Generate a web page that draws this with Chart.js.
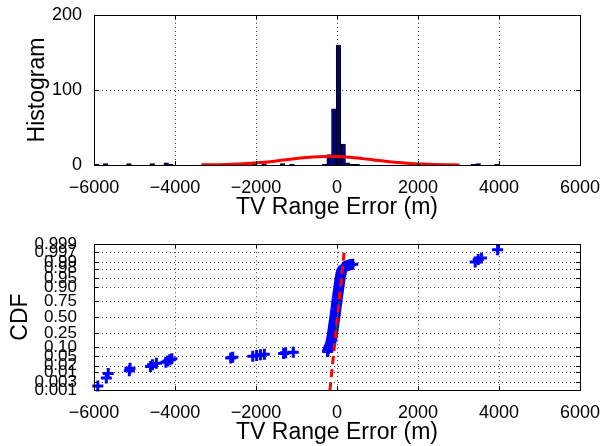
<!DOCTYPE html>
<html>
<head>
<meta charset="utf-8">
<script src="https://cdn.jsdelivr.net/npm/chart.js@4.4.1/dist/chart.umd.min.js"></script>
<style>
  html, body { margin: 0; padding: 0; background: #fff; }
  canvas { position: absolute; left: 0; }
  #histChart { top: 0; }
  #cdfChart { top: 225px; }
</style>
</head>
<body>
<canvas id="histChart" width="604" height="225"></canvas>
<canvas id="cdfChart" width="604" height="221"></canvas>
<script>
// histogram bins (centre of bin, count)
const histCenters = [-5942.5, -5712.5, -5137.5, -4562.5, -4217.5, -4102.5, -2607.5, -2032.5, -1802.5, -1342.5, -1112.5,
  -307.5, -192.5, -77.5, 37.5, 152.5, 267.5, 382.5, 497.5, 3372.5, 3487.5, 3947.5];
const histCounts = [1, 2, 2, 2, 3, 1, 1, 2, 2, 2, 1,
  1, 14, 75, 160, 28, 3, 1, 1, 1, 2, 1];

// red fitted curve
const fitX = [-3350, -3000, -2700, -2400, -2100, -1800, -1500, -1200, -900, -600, -300,
  0, 300, 600, 900, 1200, 1500, 1800, 2100, 2400, 2700, 3030];
const fitY = [0.2, 0.4, 0.7, 1.4, 2.3, 3.7, 5.4, 7.4, 9.3, 10.7, 11.4,
  11.3, 10.4, 8.8, 6.8, 4.9, 3.3, 2.0, 1.2, 0.6, 0.3, 0.1];

const xTicks = [-6000, -4000, -2000, 0, 2000, 4000, 6000];

// probability axis: labels and their normal quantiles
const probLabels = ['0.001', '0.003', '0.01', '0.02', '0.05', '0.10', '0.25', '0.50',
  '0.75', '0.90', '0.95', '0.98', '0.99', '0.997', '0.999'];
const probZ = [-3.09, -2.748, -2.326, -2.054, -1.645, -1.282, -0.674, 0,
  0.674, 1.282, 1.645, 2.054, 2.326, 2.748, 3.09];

// sorted errors and their plotting positions (quantile)
const cdfX = [-5906, -5697, -5650, -5128, -5110, -4604, -4556, -4460, -4225, -4176, -4127, -4078,
  -2624, -2575, -2080, -1984, -1890, -1794, -1318, -1269, -1079,
  -232, -225, -210, -198, -185, -165, -148, -135, -125, -119, -110, -102, -94, -86, -78,
  -70, -61, -53, -45, -38, -30, -21, -13, -5, 3, 12, 20, 28, 36, 45, 53, 61, 69, 78, 90,
  100, 111, 130, 150, 175, 205, 240, 275, 310, 345, 390,
  3413, 3487, 3566, 3967];
const cdfZ = [-2.92, -2.58, -2.39, -2.27, -2.17, -2.09, -2.02, -1.96, -1.91, -1.86, -1.81, -1.77,
  -1.73, -1.70, -1.66, -1.63, -1.60, -1.57, -1.54, -1.51, -1.49,
  -1.46, -1.40, -1.34, -1.28, -1.22, -1.14, -1.05, -0.96, -0.88, -0.81, -0.70, -0.60, -0.50, -0.40, -0.30,
  -0.20, -0.10, 0.00, 0.10, 0.20, 0.30, 0.42, 0.52, 0.62, 0.72, 0.84, 0.94, 1.04, 1.14, 1.25, 1.35, 1.45, 1.55, 1.66, 1.76,
  1.85, 1.94, 2.02, 2.08, 2.12, 2.15, 2.18, 2.20, 2.21, 2.23, 2.24,
  2.34, 2.44, 2.50, 2.86];

// reference line (dashed) and quartile segment
const refX = [-175, 185];
const refZ = [-3.09, 2.9];
const quartX = [-30, 50];
const quartZ = [-0.674, 0.674];

Chart.defaults.font.family = "'Liberation Sans', Arial, Helvetica, sans-serif";
Chart.defaults.color = '#000';

const minusFmt = v => (v < 0 ? '\u2212' + Math.abs(v) : String(v));

// dotted grid, black box and inward tick marks like the matlab axes
const boxPlugin = {
  id: 'box',
  beforeDatasetsDraw(chart) {
    const { ctx, chartArea: a, scales: { x, y } } = chart;
    ctx.save();
    ctx.strokeStyle = '#444';
    ctx.lineWidth = 1;
    ctx.setLineDash([1, 3]);
    ctx.beginPath();
    x.ticks.forEach(t => {
      const px = Math.round(x.getPixelForValue(t.value)) + 0.5;
      if (px > a.left + 2 && px < a.right - 2) { ctx.moveTo(px, a.top); ctx.lineTo(px, a.bottom); }
    });
    y.ticks.forEach(t => {
      const py = Math.round(y.getPixelForValue(t.value)) + 0.5;
      if (py > a.top + 2 && py < a.bottom - 2) { ctx.moveTo(a.left, py); ctx.lineTo(a.right, py); }
    });
    ctx.stroke();
    ctx.restore();
  },
  afterDraw(chart) {
    const { ctx, chartArea: a, scales: { x, y } } = chart;
    ctx.save();
    ctx.strokeStyle = '#000';
    ctx.lineWidth = 1;
    ctx.beginPath();
    x.ticks.forEach(t => {
      const px = Math.round(x.getPixelForValue(t.value)) + 0.5;
      ctx.moveTo(px, a.bottom); ctx.lineTo(px, a.bottom - 4);
      ctx.moveTo(px, a.top); ctx.lineTo(px, a.top + 4);
    });
    y.ticks.forEach(t => {
      const py = Math.round(y.getPixelForValue(t.value)) + 0.5;
      ctx.moveTo(a.left, py); ctx.lineTo(a.left + 4, py);
      ctx.moveTo(a.right, py); ctx.lineTo(a.right - 4, py);
    });
    ctx.stroke();
    ctx.strokeRect(Math.round(a.left) + 0.5, Math.round(a.top) + 0.5,
      Math.round(a.right - a.left), Math.round(a.bottom - a.top));
    ctx.restore();
  }
};

const tickFont = { size: 18 };
const probFont = { size: 17 };
const titleFont = { size: 23 };

// top: histogram with fitted normal curve
new Chart(document.getElementById('histChart').getContext('2d'), {
  type: 'bar',
  data: {
    datasets: [{
      type: 'line',
      data: fitX.map((x, i) => ({ x: x, y: fitY[i] })),
      borderColor: '#ff0000',
      borderWidth: 3,
      pointRadius: 0,
      tension: 0.4,
      order: 0
    }, {
      type: 'bar',
      data: histCenters.map((x, i) => ({ x: x, y: histCounts[i] })),
      backgroundColor: '#000080',
      borderColor: '#000',
      borderWidth: 1,
      barPercentage: 1,
      categoryPercentage: 1,
      order: 1
    }]
  },
  options: {
    responsive: false,
    animation: false,
    layout: { padding: { top: 15, right: 23, left: 0, bottom: 0 } },
    plugins: { legend: { display: false }, tooltip: { enabled: false } },
    scales: {
      x: {
        type: 'linear',
        offset: false,
        min: -6000,
        max: 6000,
        afterBuildTicks: axis => { axis.ticks = xTicks.map(v => ({ value: v })); },
        afterFit: scale => { scale.height = 60; },
        grid: { display: false },
        border: { display: false },
        ticks: { font: tickFont, padding: 4, maxRotation: 0, autoSkip: false, callback: v => minusFmt(v) },
        title: { display: true, text: 'TV Range Error (m)', font: titleFont, padding: { top: 0, bottom: 4 } }
      },
      y: {
        min: 0,
        max: 200,
        ticks: { stepSize: 100, font: tickFont, padding: 4 },
        afterFit: scale => { scale.width = 94; },
        grid: { display: false },
        border: { display: false },
        title: { display: true, text: 'Histogram', font: titleFont, padding: { top: 24, bottom: 0 } }
      }
    }
  },
  plugins: [boxPlugin]
});

// bottom: normal probability plot
new Chart(document.getElementById('cdfChart').getContext('2d'), {
  type: 'scatter',
  data: {
    datasets: [{
      type: 'line',
      data: refX.map((x, i) => ({ x: x, y: refZ[i] })),
      borderColor: '#ff0000',
      borderWidth: 3,
      borderDash: [8, 5],
      pointRadius: 0,
      order: 0
    }, {
      type: 'line',
      data: quartX.map((x, i) => ({ x: x, y: quartZ[i] })),
      borderColor: '#008000',
      borderWidth: 1,
      pointRadius: 0,
      order: 1
    }, {
      data: cdfX.map((x, i) => ({ x: x, y: cdfZ[i] })),
      pointStyle: 'cross',
      pointRadius: 5.5,
      pointBorderWidth: 3,
      borderColor: '#0000ff',
      backgroundColor: '#0000ff',
      clip: false,
      order: 2
    }]
  },
  options: {
    responsive: false,
    animation: false,
    layout: { padding: { top: 15, right: 23, left: 0, bottom: 0 } },
    plugins: { legend: { display: false }, tooltip: { enabled: false } },
    scales: {
      x: {
        type: 'linear',
        min: -6000,
        max: 6000,
        afterBuildTicks: axis => { axis.ticks = xTicks.map(v => ({ value: v })); },
        afterFit: scale => { scale.height = 56; },
        grid: { display: false },
        border: { display: false },
        ticks: { font: tickFont, padding: 4, maxRotation: 0, autoSkip: false, callback: v => minusFmt(v) },
        title: { display: true, text: 'TV Range Error (m)', font: titleFont, padding: { top: 0, bottom: 0 } }
      },
      y: {
        min: -3.09,
        max: 3.09,
        afterBuildTicks: axis => { axis.ticks = probZ.map(v => ({ value: v })); },
        afterFit: scale => { scale.width = 94; },
        grid: { display: false },
        border: { display: false },
        ticks: { font: probFont, padding: 9, autoSkip: false, callback: (v, i) => probLabels[i] },
        title: { display: true, text: 'CDF', font: titleFont, padding: { top: 7, bottom: 0 } }
      }
    }
  },
  plugins: [boxPlugin]
});
</script>
</body>
</html>
